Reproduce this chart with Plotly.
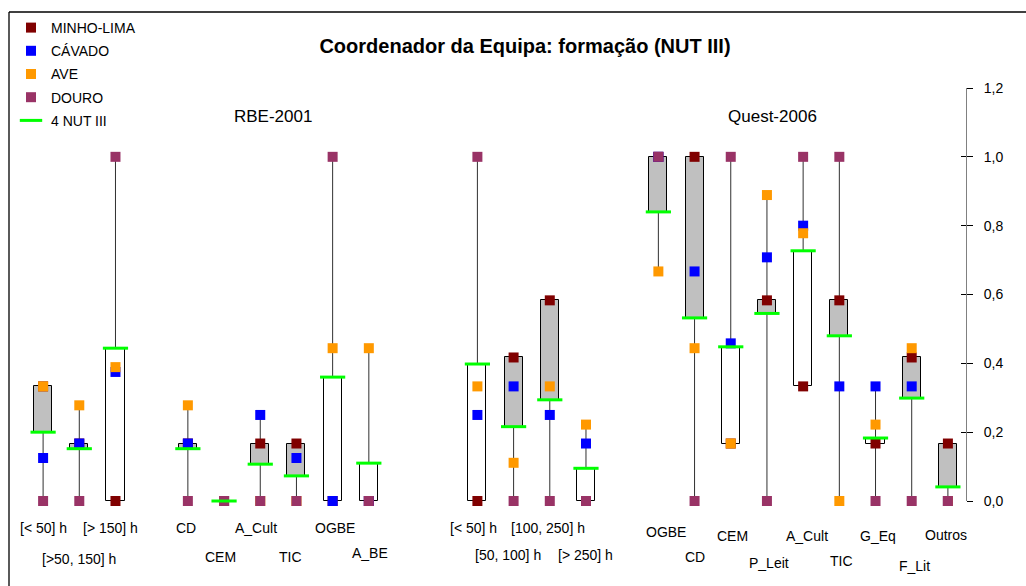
import plotly.graph_objects as go

# ---------------- data ----------------
rbe_hours = ["[< 50] h", "[>50, 150] h", "[> 150] h"]
rbe_areas = ["CD", "CEM", "A_Cult", "TIC", "OGBE", "A_BE"]
quest_hours = ["[< 50] h", "[50, 100] h", "[100, 250] h", "[> 250] h"]
quest_areas = ["OGBE", "CD", "CEM", "P_Leit", "A_Cult", "TIC", "G_Eq", "F_Lit", "Outros"]

minho_lima = [0.333, 0.167, 0.0,
              0.167, 0.0, 0.167, 0.167, 0.0, 0.0,
              0.0, 0.417, 0.583, 0.0,
              1.0, 1.0, 0.167, 0.583, 0.333, 0.583, 0.167, 0.417, 0.167]
cavado = [0.125, 0.167, 0.375,
          0.167, 0.0, 0.25, 0.125, 0.0, 0.0,
          0.25, 0.333, 0.25, 0.167,
          1.0, 0.667, 0.458, 0.708, 0.80, 0.333, 0.333, 0.333, 0.0]
ave = [0.333, 0.278, 0.389,
       0.278, 0.0, 0.0, 0.0, 0.444, 0.444,
       0.333, 0.111, 0.333, 0.222,
       0.667, 0.444, 0.167, 0.889, 0.778, 0.0, 0.222, 0.444, 0.0]
douro = [0.0, 0.0, 1.0,
         0.0, 0.0, 0.0, 0.0, 1.0, 0.0,
         1.0, 0.0, 0.0, 0.0,
         1.0, 0.0, 1.0, 0.0, 1.0, 1.0, 0.0, 0.0, 0.0]
nut_iii = [0.20, 0.152, 0.444,
           0.152, 0.0, 0.107, 0.073, 0.36, 0.11,
           0.398, 0.216, 0.294, 0.095,
           0.84, 0.532, 0.448, 0.545, 0.727, 0.48, 0.183, 0.299, 0.041]

y_ticks = [0.0, 0.2, 0.4, 0.6, 0.8, 1.0, 1.2]

# ---------------- layout / style ----------------
W, H = 1026, 586
ML, MR, MT, MB = 25, 60, 88, 85
groups = [rbe_hours, rbe_areas, quest_hours, quest_areas]
gap_after = [1, 2, 1, 0]          # empty category slots between groups
label_y_px = [528, 559, 528,
              528, 557, 528, 557, 528, 553,
              528, 555, 528, 555,
              532, 557, 536, 563, 536, 561, 536, 566, 535]
label_dx = [0, 0, -5,
            -2, -4, -4, -6, 2, 1,
            -4, -6, -2, 0,
            8, 0, 2, 2, 4, 2, 2, 3, -2]
FONT = "Liberation Sans, Arial, sans-serif"
C_MINHO, C_CAV, C_AVE, C_DOURO, C_NUT = "#800000", "#0000FF", "#FF9900", "#993366", "#00FF00"

labels, xpos = [], []
pos = 0
for g, gap in zip(groups, gap_after):
    for lab in g:
        labels.append(lab)
        xpos.append(pos)
        pos += 1
    pos += gap
n_slots = pos

fig = go.Figure()

# high-low lines (drawn outside the boxes)
wx, wy = [], []
for i, x in enumerate(xpos):
    vals = [minho_lima[i], cavado[i], ave[i], douro[i]]
    lo, hi = min(vals), max(vals)
    b_lo, b_hi = min(minho_lima[i], nut_iii[i]), max(minho_lima[i], nut_iii[i])
    if lo < b_lo:
        wx += [x, x, None]; wy += [lo, b_lo, None]
    if hi > b_hi:
        wx += [x, x, None]; wy += [b_hi, hi, None]
fig.add_trace(go.Scatter(x=wx, y=wy, mode="lines", line=dict(color="#303030", width=1),
                         showlegend=False, hoverinfo="skip", cliponaxis=False))

# up/down bars (open = MINHO-LIMA, close = 4 NUT III)
for up, fill in [(True, "#FFFFFF"), (False, "#C0C0C0")]:
    bx, bb, bh = [], [], []
    for i, x in enumerate(xpos):
        o, c = minho_lima[i], nut_iii[i]
        if (c >= o) == up:
            bx.append(x); bb.append(min(o, c)); bh.append(abs(c - o))
    fig.add_trace(go.Bar(x=bx, y=bh, base=bb, width=0.5,
                         marker=dict(color=fill, line=dict(color="#000000", width=1)),
                         showlegend=False, hoverinfo="skip"))

series = [("MINHO-LIMA", minho_lima, C_MINHO), ("CÁVADO", cavado, C_CAV),
          ("AVE", ave, C_AVE), ("DOURO", douro, C_DOURO)]
for k, (name, vals, col) in enumerate(series):
    fig.add_trace(go.Scatter(x=xpos, y=vals, mode="markers", name=name,
                             marker=dict(symbol="square", size=10, color=col, line=dict(width=0)),
                             cliponaxis=False, legendgroup=name))
fig.add_trace(go.Scatter(x=xpos, y=nut_iii, mode="markers", name="4 NUT III",
                         marker=dict(symbol="line-ew", size=18, color=C_NUT,
                                     line=dict(color=C_NUT, width=3)),
                         cliponaxis=False, legendgroup="nut"))
# dummy trace for inside tick marks axis
fig.add_trace(go.Scatter(x=[None], y=[None], yaxis="y2", showlegend=False, hoverinfo="skip"))

# category labels
for i, x in enumerate(xpos):
    fig.add_annotation(x=x, y=0, xref="x", yref="paper", text=labels[i], showarrow=False,
                       yanchor="middle", yshift=-(label_y_px[i] - (H - MB)), xshift=label_dx[i],
                       font=dict(size=14, color="#000000", family=FONT))

pw, ph = W - ML - MR, H - MT - MB
def px_to_paper(px, py):
    return (px - ML) / pw, (H - MB - py) / ph

for txt, cx, cy in [("RBE-2001", 232, 105), ("Quest-2006", 819, 105)]:
    ax_, ay_ = px_to_paper(cx, cy)
    fig.add_annotation(x=ax_, y=ay_, xref="paper", yref="paper", text=txt, showarrow=False,
                       font=dict(size=17, color="#000000", family=FONT))

# frame lines (left and top)
x0, y0 = px_to_paper(9, 12)
x1, y1 = px_to_paper(W + 2, H + 2)
fig.add_shape(type="line", xref="paper", yref="paper", x0=x0, y0=y0, x1=x0, y1=y1,
              line=dict(color="#000000", width=1.3))
fig.add_shape(type="line", xref="paper", yref="paper", x0=x0, y0=y0, x1=x1, y1=y0,
              line=dict(color="#000000", width=1.3))

fig.update_layout(
    width=W, height=H,
    margin=dict(l=ML, r=MR, t=MT, b=MB, pad=0, autoexpand=False),
    paper_bgcolor="#FFFFFF", plot_bgcolor="#FFFFFF",
    separators=", ",
    barmode="overlay", bargap=0,
    font=dict(family=FONT, size=14, color="#000000"),
    title=dict(text="<b>Coordenador da Equipa: formação (NUT III)</b>",
               x=525 / W, xref="container", xanchor="center",
               y=1 - 46 / H, yref="container", yanchor="middle",
               font=dict(size=20, family=FONT, color="#000000")),
    xaxis=dict(range=[-0.5, n_slots - 0.5], visible=False, fixedrange=True),
    yaxis=dict(range=[0, 1.2], side="right", tickvals=y_ticks, tickformat=".1f",
               showgrid=False, zeroline=False, showline=True, linecolor="#808080", linewidth=1,
               ticks="outside", ticklen=6, tickcolor="#000000", tickwidth=1,
               ticklabelstandoff=8, tickfont=dict(size=14, family=FONT, color="#000000")),
    yaxis2=dict(range=[0, 1.2], overlaying="y", side="right", tickvals=y_ticks,
                showgrid=False, zeroline=False, showline=False, showticklabels=False,
                ticks="inside", ticklen=5, tickcolor="#000000", tickwidth=1),
    legend=dict(xref="container", yref="container", x=11 / W, y=1 - 12 / H,
                xanchor="left", yanchor="top", bgcolor="rgba(0,0,0,0)",
                font=dict(size=14, family=FONT, color="#000000"),
                tracegroupgap=2, itemwidth=30),
)

fig.write_html("out.html", config={"displayModeBar": False},
               post_script="document.body.style.margin='0';document.body.style.overflow='hidden';")
